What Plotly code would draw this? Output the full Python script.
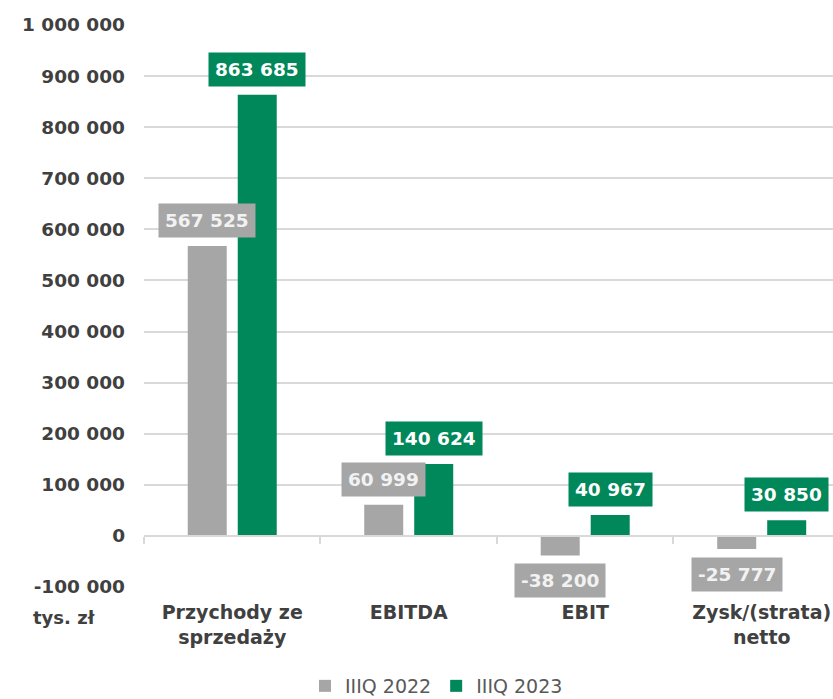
import plotly.graph_objects as go

categories = ["Przychody ze<br>sprzedaży", "EBITDA", "EBIT", "Zysk/(strata)<br>netto"]
series_names = ["IIIQ 2022", "IIIQ 2023"]
values_2022 = [567525, 60999, -38200, -25777]
values_2023 = [863685, 140624, 40967, 30850]
y_tick_vals = list(range(-100000, 1000001, 100000))

GRAY = "#A6A6A6"
GREEN = "#00875A"
DARK = "#404040"
FONT = "DejaVu Sans"

BARGAP = 0.4334
BARGROUPGAP = 0.22
xs = list(range(len(categories)))
YMIN, YMAX = -100000, 1000000

def fmt(v):
    s = f"{abs(v):,}".replace(",", " ")
    return ("-" if v < 0 else "") + s

fig = go.Figure()
fig.add_trace(go.Bar(x=xs, y=values_2022, name=series_names[0], marker=dict(color=GRAY, line=dict(width=0))))
fig.add_trace(go.Bar(x=xs, y=values_2023, name=series_names[1], marker=dict(color=GREEN, line=dict(width=0))))

half = 0.25 * (1 - BARGAP)
annotations = []
for vals, col, txtcol, off in [(values_2022, GRAY, "#F2F2F2", -half), (values_2023, GREEN, "#FFFFFF", half)]:
    for i, v in enumerate(vals):
        annotations.append(dict(
            x=i + off, y=v, xref="x", yref="y", text=fmt(v), showarrow=False,
            yanchor="bottom" if v >= 0 else "top", yshift=8 if v >= 0 else -8,
            bgcolor=col, borderpad=6, font=dict(family=FONT, size=18.5, color=txtcol, weight="bold"),
        ))
annotations.append(dict(text="tys. zł", showarrow=False, xref="paper", yref="paper",
                        x=(64 - 144) / (833 - 144), y=-(617 - 587) / (587 - 25),
                        xanchor="center", yanchor="middle",
                        font=dict(family=FONT, size=18, color=DARK, weight="bold")))

zero_pos = (0 - YMIN) / (YMAX - YMIN)

fig.update_layout(
    width=833, height=699,
    margin=dict(l=144, r=0, t=25, b=112, autoexpand=False),
    plot_bgcolor="white", paper_bgcolor="white",
    barmode="group", bargap=BARGAP, bargroupgap=BARGROUPGAP,
    font=dict(family=FONT, color=DARK),
    xaxis=dict(range=[-0.5, 3.404], tickvals=xs, ticktext=categories,
               showgrid=False, zeroline=False, showline=False, ticks="",
               tickfont=dict(family=FONT, size=19, color=DARK, weight="bold"), ticklabelstandoff=12),
    xaxis2=dict(overlaying="x", anchor="free", position=zero_pos, range=[-0.5, 3.404],
                tickvals=[-0.5, 0.5, 1.5, 2.5], showticklabels=False, ticks="outside",
                ticklen=7, tickcolor="#D9D9D9", tickwidth=2, showline=True, linecolor="#D9D9D9",
                linewidth=2, showgrid=False, zeroline=False),
    yaxis=dict(range=[YMIN, YMAX], tickvals=y_tick_vals, ticktext=[fmt(v) for v in y_tick_vals],
               showgrid=True, gridcolor="#D9D9D9", gridwidth=2, zeroline=False,
               ticks="", ticklabelstandoff=18,
               tickfont=dict(family=FONT, size=18.5, color=DARK, weight="bold")),
    legend=dict(orientation="h", x=(305 - 144) / 689, xanchor="left",
                y=-(686 - 587) / (587 - 25), yanchor="middle",
                font=dict(family=FONT, size=19, color="#595959"), traceorder="normal"),
    annotations=annotations,
)
fig.add_trace(go.Scatter(x=[0], y=[0], xaxis="x2", mode="none", showlegend=False, hoverinfo="skip"))

fig.write_html("out.html", config={"displayModeBar": False},
               post_script="document.body.style.margin='0';document.body.style.overflow='hidden';")
